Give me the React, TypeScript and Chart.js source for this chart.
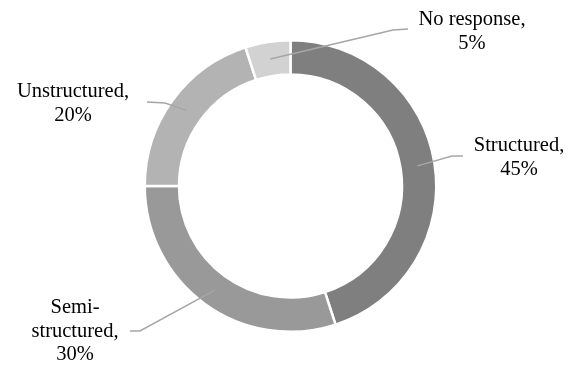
import React, { useEffect, useRef } from "react";
import { Chart, registerables } from "chart.js";

Chart.register(...registerables);

const categories = ["Structured", "Semi-structured", "Unstructured", "No response"];
const values = [45, 30, 20, 5];
const labelLines = [
  ["Structured,", "45%"],
  ["Semi-", "structured,", "30%"],
  ["Unstructured,", "20%"],
  ["No response,", "5%"],
];
const colors = ["#7f7f7f", "#999999", "#b3b3b3", "#d2d2d2"];

// layout of the callout labels (text centre x, first line y, leader elbow and end)
const labelLayout = [
  { tx: 519, ty: 146, elbow: [452, 156], end: [463, 156] },
  { tx: 75, ty: 308, elbow: [140, 331], end: [130, 331] },
  { tx: 73, ty: 92, elbow: [165, 103], end: [147, 102] },
  { tx: 472, ty: 20, elbow: [393, 30], end: [408, 29] },
];

const calloutPlugin = {
  id: "callouts",
  afterDatasetsDraw(chart: any) {
    const ctx = chart.ctx;
    const meta = chart.getDatasetMeta(0);
    ctx.save();
    meta.data.forEach((arc: any, i: number) => {
      const p = arc.getProps(["x", "y", "startAngle", "endAngle", "innerRadius", "outerRadius"], true);
      const mid = (p.startAngle + p.endAngle) / 2;
      const r = (p.innerRadius + p.outerRadius) / 2;
      const sx = p.x + Math.cos(mid) * r;
      const sy = p.y + Math.sin(mid) * r;
      const L = labelLayout[i];
      ctx.beginPath();
      ctx.strokeStyle = "#a6a6a6";
      ctx.lineWidth = 1.5;
      ctx.moveTo(sx, sy);
      ctx.lineTo(L.elbow[0], L.elbow[1]);
      ctx.lineTo(L.end[0], L.end[1]);
      ctx.stroke();
      ctx.fillStyle = "#000000";
      ctx.font = '20.5px "Liberation Serif", "Times New Roman", serif';
      ctx.textAlign = "center";
      ctx.textBaseline = "middle";
      labelLines[i].forEach((t, j) => {
        ctx.fillText(t, L.tx, L.ty + j * 23.5);
      });
    });
    ctx.restore();
  },
};

export default function App() {
  const ref = useRef<HTMLCanvasElement>(null);
  useEffect(() => {
    document.body.style.margin = "0";
    const chart = new Chart(ref.current!, {
      type: "doughnut",
      data: {
        labels: categories,
        datasets: [
          {
            data: values,
            backgroundColor: colors,
            borderColor: "#ffffff",
            borderWidth: 2.5,
          },
        ],
      },
      options: {
        animation: false,
        responsive: false,
        cutout: "76.5%",
        layout: { padding: { top: 39, bottom: 33, left: 13, right: 0 } },
        plugins: {
          legend: { display: false },
          tooltip: { enabled: false },
        },
      },
      plugins: [calloutPlugin],
    });
    return () => chart.destroy();
  }, []);
  return (
    <div style={{ width: 568, height: 366, background: "#fff" }}>
      <canvas ref={ref} width={568} height={366} style={{ width: 568, height: 366 }} />
    </div>
  );
}
